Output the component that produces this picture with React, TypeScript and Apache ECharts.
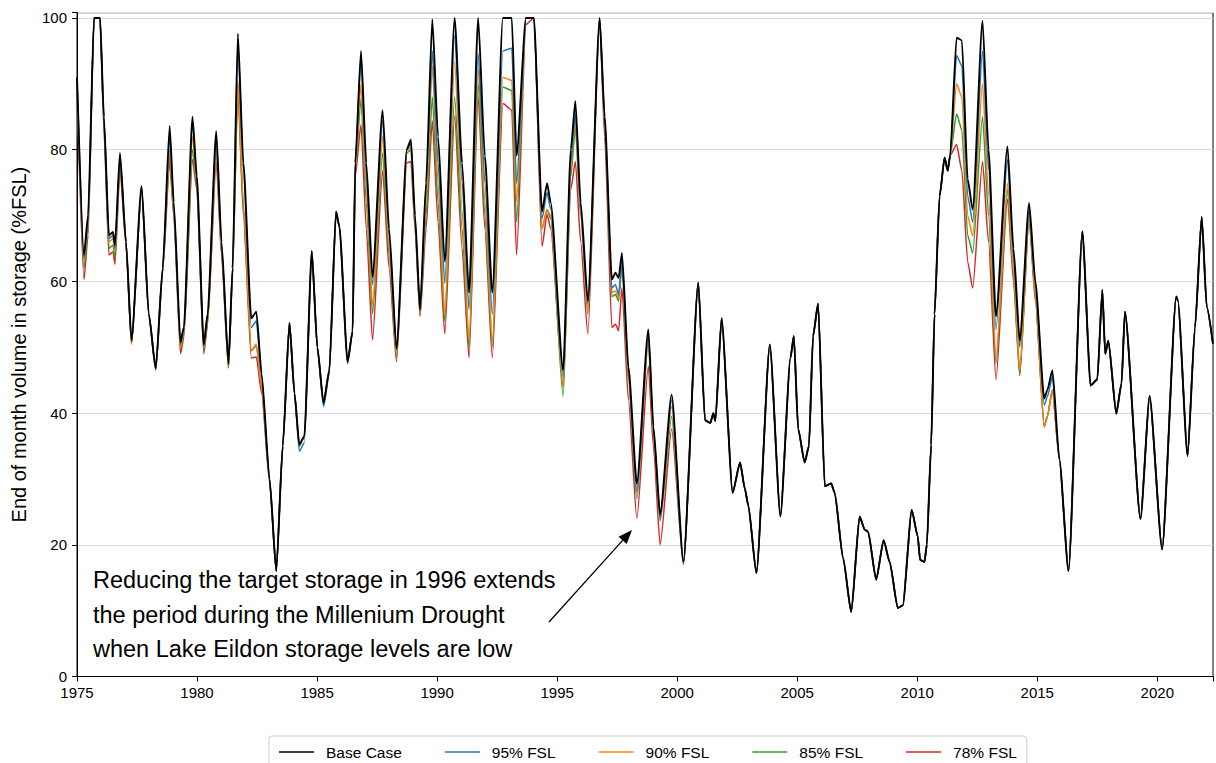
import React, { useEffect, useRef } from "react";
import * as echarts from "echarts";

// Decimal years of the points (end-of-month samples at turning points)
const years = [
  1975.00, 1975.29, 1975.46, 1975.71, 1975.96, 1976.12, 1976.33, 1976.50, 1976.58, 1976.79,
  1977.04, 1977.27, 1977.69, 1977.99, 1978.28, 1978.57, 1978.86, 1979.03, 1979.31, 1979.45,
  1979.81, 1979.99, 1980.28, 1980.44, 1980.80, 1981.02, 1981.31, 1981.48, 1981.70, 1981.93,
  1982.26, 1982.47, 1982.69, 1983.02, 1983.30, 1983.57, 1983.85, 1984.06, 1984.26, 1984.47,
  1984.78, 1985.01, 1985.27, 1985.51, 1985.79, 1985.93, 1986.27, 1986.48, 1986.59, 1986.83,
  1987.05, 1987.31, 1987.73, 1988.00, 1988.31, 1988.74, 1988.91, 1989.08, 1989.29, 1989.54,
  1989.80, 1990.04, 1990.32, 1990.73, 1991.04, 1991.33, 1991.71, 1991.99, 1992.30, 1992.74,
  1993.11, 1993.31, 1993.70, 1994.03, 1994.37, 1994.58, 1994.73, 1995.25, 1995.57, 1995.76,
  1995.98, 1996.28, 1996.77, 1996.98, 1997.28, 1997.43, 1997.56, 1997.70, 1997.97, 1998.32,
  1998.80, 1999.01, 1999.29, 1999.77, 2000.26, 2000.88, 2001.16, 2001.38, 2001.51, 2001.59,
  2001.85, 2002.31, 2002.62, 2002.82, 2002.96, 2003.30, 2003.86, 2004.30, 2004.72, 2004.86,
  2005.04, 2005.31, 2005.49, 2005.66, 2005.87, 2006.15, 2006.42, 2006.56, 2006.91, 2007.25,
  2007.60, 2007.81, 2007.95, 2008.29, 2008.60, 2008.85, 2009.19, 2009.40, 2009.77, 2010.02,
  2010.12, 2010.30, 2010.40, 2010.58, 2010.72, 2010.93, 2011.14, 2011.27, 2011.37, 2011.64,
  2011.86, 2012.10, 2012.31, 2012.72, 2012.97, 2013.28, 2013.76, 2014.01, 2014.27, 2014.66,
  2014.92, 2015.29, 2015.42, 2015.63, 2015.92, 2016.30, 2016.88, 2017.22, 2017.50, 2017.71,
  2017.83, 2017.96, 2018.29, 2018.51, 2018.65, 2019.30, 2019.68, 2020.20, 2020.79, 2020.86,
  2021.26, 2021.57, 2021.85, 2022.06, 2022.32,
];

const baseCase = [
  91, 64, 70, 100, 100, 85, 67, 67.5, 65.5, 79.5,
  66, 51, 74.5, 55, 46.8, 62, 83.6, 72, 50.8, 53,
  85, 76, 50.4, 55, 82.8, 66, 47.5, 62, 97.6, 78,
  54.4, 55.4, 46, 30, 16, 35, 53.7, 43, 35.2, 36.5,
  64.6, 50, 41.5, 46.5, 70.6, 68.3, 47.8, 52.4, 78, 95,
  78, 60.7, 86, 68, 49.8, 80.1, 81.5, 70, 55.7, 75,
  99.8, 82, 63, 100, 78, 58.3, 100, 79, 58.3, 100,
  100, 79.1, 100, 100, 70.6, 74.9, 72, 46.5, 80, 87.4,
  72, 57, 100, 85, 60.3, 61.3, 60.5, 64.3, 47, 29.3,
  52.7, 38, 24.6, 42.8, 17.4, 59.8, 38.9, 38.5, 40, 38.8,
  54.4, 27.9, 32.5, 28.5, 26, 15.7, 50.4, 24.3, 48.4, 51.7,
  37.6, 32.5, 35, 51.7, 56.6, 28.9, 29.3, 27.9, 18, 9.8,
  24.3, 22.3, 22, 14.7, 20.7, 17.4, 10.4, 10.8, 25.3, 21.3,
  17.7, 17.4, 20, 35.2, 55, 72.9, 78.8, 76.8, 79.1, 97,
  96.6, 75.5, 70.9, 99.6, 80, 54.7, 80.5, 65, 51, 71.9,
  60, 42.2, 43.5, 46.5, 33, 16, 67.6, 44.2, 45.1, 58.7,
  49, 51, 39.9, 44.5, 55.4, 23.9, 42.6, 19.3, 57.7, 57,
  33.5, 53, 69.8, 56.1, 50.5,
];

const fsl95 = [
  91, 63.5, 69, 100, 100, 85, 66.5, 67, 65, 79,
  66, 51, 74.5, 55, 46.8, 62, 82, 71.5, 50.5, 52.8,
  84, 75.5, 50.2, 55, 82, 65.5, 47.3, 62, 96.5, 77,
  53, 54, 45.5, 30, 16, 35, 53.7, 43, 34.2, 35.5,
  64.6, 50, 41, 46, 70.6, 68.3, 47.8, 52.4, 78, 94,
  76, 59.5, 84.5, 67, 49.5, 80, 81, 69.5, 55.5, 74,
  95, 78, 59.7, 97.3, 75, 55.7, 94.6, 75, 55, 95,
  95.4, 74.9, 100, 100, 69.5, 73.5, 71, 45.5, 78, 85.4,
  71, 56.5, 100, 85, 59, 59.5, 58, 63, 46, 28,
  52, 37.5, 24, 42, 17.4, 59.8, 38.9, 38.5, 40, 38.8,
  54.4, 27.9, 32.5, 28.5, 26, 15.7, 50.4, 24.3, 48.4, 51.7,
  37.6, 32.5, 35, 51.7, 56.6, 28.9, 29.3, 27.9, 18, 9.8,
  24.3, 22.3, 22, 14.7, 20.7, 17.4, 10.4, 10.8, 25.3, 21.3,
  17.7, 17.4, 20, 35.2, 55, 72.9, 78.8, 76.8, 79.1, 94.3,
  92.7, 73, 69, 95, 77, 52.7, 78.5, 63.5, 50, 71,
  59.5, 41.2, 42.5, 45.5, 33, 16, 67.6, 44.2, 45.1, 58.7,
  49, 51, 39.9, 44.5, 55.4, 23.9, 42.6, 19.3, 57.7, 57,
  33.5, 53, 69.8, 56.1, 50.5,
];

const fsl90 = [
  90.5, 63, 68.5, 100, 100, 84.5, 66, 66.5, 64.5, 78.5,
  66, 50.5, 74, 55, 46.7, 62, 80, 71, 50, 52.5,
  82, 75, 50, 54.5, 80.5, 65, 47, 61.5, 90.5, 72,
  49.5, 50.5, 44, 30, 16, 35, 53.7, 43, 35, 36.5,
  64.6, 50, 41.5, 46.5, 70.6, 68.3, 47.8, 52.4, 77.5, 90,
  74, 56.4, 82, 65, 48.8, 79.8, 80.5, 69, 55.2, 72,
  92.7, 75, 55, 93.3, 71, 51, 92.3, 72, 51, 91,
  90.5, 72.2, 100, 100, 68, 70.9, 70, 44, 77, 84.5,
  70.5, 55.5, 100, 84.5, 58.4, 58.5, 57.5, 63, 45.5, 28,
  51.5, 37, 24, 41, 17.3, 59.8, 38.9, 38.5, 40, 38.8,
  54.4, 27.9, 32.5, 28.5, 26, 15.7, 50.4, 24.3, 48.4, 51.7,
  37.6, 32.5, 35, 51.7, 56.6, 28.9, 29.3, 27.9, 18, 9.8,
  24.3, 22.3, 22, 14.7, 20.7, 17.4, 10.4, 10.8, 25.3, 21.3,
  17.7, 17.4, 20, 35.2, 55, 72.9, 78.8, 76.8, 79.1, 90,
  88, 70, 66.9, 90, 73, 48.4, 74.9, 61.5, 46.5, 70.5,
  58, 37.9, 39.5, 43.5, 33, 16, 67.6, 44.2, 45.1, 58.7,
  49, 51, 39.9, 44.5, 55.4, 23.9, 42.6, 19.3, 57.7, 57,
  33.5, 53, 69.8, 56.1, 50.5,
];

const fsl85 = [
  90, 62, 68, 100, 100, 84, 65, 65.5, 63.5, 78,
  66, 50.5, 74, 55, 46.6, 62, 79.5, 70.5, 50, 52,
  80, 74.5, 49.5, 54, 80, 64.5, 47, 61.5, 90, 71,
  49.5, 50.2, 44, 30, 16, 35, 53.7, 43, 35, 36.5,
  64.6, 50, 41.5, 46.5, 70.6, 68.3, 47.8, 52.4, 77, 87.7,
  72, 55, 79.5, 64, 48.5, 79.5, 80, 68.5, 55, 70,
  88, 72, 54, 88, 68, 50, 90, 70, 50, 89.5,
  89, 69, 100, 100, 68, 70.9, 69.5, 42.5, 76, 83.4,
  70, 55, 100, 84, 57.7, 58, 57, 62.3, 45, 27,
  51, 36.5, 23.6, 39.5, 17.3, 59.8, 38.9, 38.5, 40, 38.8,
  54.4, 27.9, 32.5, 28.5, 26, 15.7, 50.4, 24.3, 48.4, 51.7,
  37.6, 32.5, 35, 51.7, 56.6, 28.9, 29.3, 27.9, 18, 9.8,
  24.3, 22.3, 22, 14.7, 20.7, 17.4, 10.4, 10.8, 25.3, 21.3,
  17.7, 17.4, 20, 35.2, 55, 72.9, 78.8, 76.8, 79.1, 85.4,
  83, 67, 64.3, 85, 70, 47.5, 73.9, 61, 46, 70,
  57.5, 38, 39.5, 43.5, 33, 16, 67.6, 44.2, 45.1, 58.7,
  49, 51, 39.9, 44.5, 55.4, 23.9, 42.6, 19.3, 57.7, 57,
  33.5, 53, 69.8, 56.1, 50.5,
];

const fsl78 = [
  89, 60.3, 67, 100, 100, 83, 64, 64.5, 62.6, 77,
  65.5, 50.5, 74, 55, 46.5, 61.5, 78.2, 70, 49, 51.5,
  78.5, 74, 49, 53.5, 78.2, 64, 46.8, 61, 89.5, 70,
  48.4, 48.5, 43, 29.5, 16, 35, 53.7, 43, 35, 36.5,
  64.6, 50, 41.5, 46.5, 70.6, 68.3, 47.5, 52.4, 76, 83.8,
  68, 51.1, 76.8, 62, 47.8, 78, 78.2, 68, 54.7, 68,
  84.4, 69, 52, 85.1, 65, 48.4, 88, 68, 48.4, 87,
  86, 64, 99, 100, 65.3, 70.2, 68, 44, 74, 78.2,
  66, 52, 99.5, 82, 53, 53.5, 52.5, 59, 42, 24,
  47.1, 35, 20, 37.6, 17, 59.8, 38.9, 38.5, 40, 38.8,
  54.4, 27.9, 32.5, 28.5, 26, 15.7, 50.4, 24.3, 48.4, 51.7,
  37.6, 32.5, 35, 51.7, 56.6, 28.9, 29.3, 27.9, 18, 9.8,
  24.3, 22.3, 22, 14.7, 20.7, 17.4, 10.4, 10.8, 25.3, 21.3,
  17.7, 17.4, 20, 35.2, 55, 72.9, 78.8, 76.8, 79.1, 80.8,
  76.8, 63, 59, 78.2, 66, 45.1, 72.5, 60, 45.7, 69.6,
  57, 37.9, 39.5, 43.5, 33, 16, 67.6, 44.2, 45.1, 58.7,
  49, 51, 39.9, 44.5, 55.4, 23.9, 42.6, 19.3, 57.7, 57,
  33.5, 53, 69.8, 56.1, 50.5,
];

const seriesNames = ["Base Case", "95% FSL", "90% FSL", "85% FSL", "78% FSL"];
const seriesColors = ["#000000", "#1f77b4", "#ff7f0e", "#2ca02c", "#d62728"];
const seriesValues = [baseCase, fsl95, fsl90, fsl85, fsl78];

const annotationLines = [
  "Reducing the target storage in 1996 extends",
  "the period during the Millenium Drought",
  "when Lake Eildon storage levels are low",
];

const yTitle = "End of month volume in storage (%FSL)";

export default function App() {
  const ref = useRef<HTMLDivElement>(null);

  useEffect(() => {
    if (!ref.current) return;
    const chart = echarts.init(ref.current, null, { renderer: "svg" });
    const font = "'Liberation Sans', Arial, sans-serif";

    const series = seriesNames.map((name, k) => ({
      name,
      type: "line",
      data: years.map((y, i) => [y, seriesValues[k][i]]),
      showSymbol: false,
      symbol: "none",
      smooth: 0.2,
      smoothMonotone: "x",
      lineStyle: { color: seriesColors[k], width: k === 0 ? 1.9 : 1.5 },
      itemStyle: { color: seriesColors[k] },
      z: k === 0 ? 10 : 9 - k,
    }));

    // base case drawn last (on top)
    const ordered = [...series.slice(1), series[0]];

    const tipX = 632, tipY = 530, tailX = 549, tailY = 622;
    const dx = tipX - tailX, dy = tipY - tailY;
    const len = Math.sqrt(dx * dx + dy * dy);
    const ux = dx / len, uy = dy / len;
    const hl = 14, hw = 5.5;
    const bx = tipX - ux * hl, by = tipY - uy * hl;

    chart.setOption({
      animation: false,
      backgroundColor: "#ffffff",
      textStyle: { fontFamily: font },
      grid: {
        left: 77,
        right: -2,
        top: 12.7,
        bottom: 86.5,
        show: true,
        borderColor: "#000000",
        borderWidth: 1,
        backgroundColor: "transparent",
      },
      legend: {
        data: seriesNames,
        left: 269,
        top: 736,
        orient: "horizontal",
        padding: [8, 10, 8, 10],
        itemGap: 43,
        itemWidth: 35,
        itemHeight: 1.6,
        icon: "rect",
        borderColor: "#cccccc",
        borderWidth: 1,
        borderRadius: 3,
        textStyle: { fontSize: 15.5, color: "#000000", fontFamily: font, padding: [0, 0, 0, 7] },
      },
      xAxis: {
        type: "value",
        min: 1975,
        max: 2022.32,
        interval: 5,
        axisLine: { show: true, lineStyle: { color: "#000000", width: 1 } },
        axisTick: { show: true, length: 5, lineStyle: { color: "#000000" } },
        axisLabel: {
          fontSize: 15,
          color: "#000000",
          margin: 8,
          formatter: (v: number) => (Math.abs(v % 5) < 1e-6 ? String(Math.round(v)) : ""),
        },
        splitLine: { show: false },
      },
      yAxis: {
        type: "value",
        min: 0,
        max: 100.8,
        interval: 20,
        name: yTitle,
        nameLocation: "middle",
        nameGap: 48,
        nameTextStyle: { fontSize: 20, color: "#000000", fontFamily: font },
        axisLine: { show: true, lineStyle: { color: "#000000", width: 1 } },
        axisTick: { show: true, length: 5, lineStyle: { color: "#000000" } },
        axisLabel: {
          fontSize: 15,
          color: "#000000",
          margin: 10,
          formatter: (v: number) => (Math.abs(v % 20) < 1e-6 ? String(Math.round(v)) : ""),
        },
        splitLine: { show: true, lineStyle: { color: "#d9d9d9", width: 1 } },
      },
      graphic: [
        ...annotationLines.map((t, i) => ({
          type: "text",
          left: 93,
          top: 568 + i * 34.5,
          z: 100,
          style: { text: t, fontSize: 23.5, fill: "#000000", fontFamily: font },
        })),
        {
          type: "line",
          z: 100,
          shape: { x1: tailX, y1: tailY, x2: bx, y2: by },
          style: { stroke: "#000000", lineWidth: 1.3 },
        },
        {
          type: "polygon",
          z: 100,
          shape: {
            points: [
              [tipX, tipY],
              [bx - uy * hw, by + ux * hw],
              [bx + uy * hw, by - ux * hw],
            ],
          },
          style: { fill: "#000000" },
        },
      ],
      series: ordered,
    });

    return () => chart.dispose();
  }, []);

  return (
    <div
      ref={ref}
      style={{ position: "fixed", left: 0, top: 0, width: 1216, height: 763, background: "#ffffff" }}
    />
  );
}
